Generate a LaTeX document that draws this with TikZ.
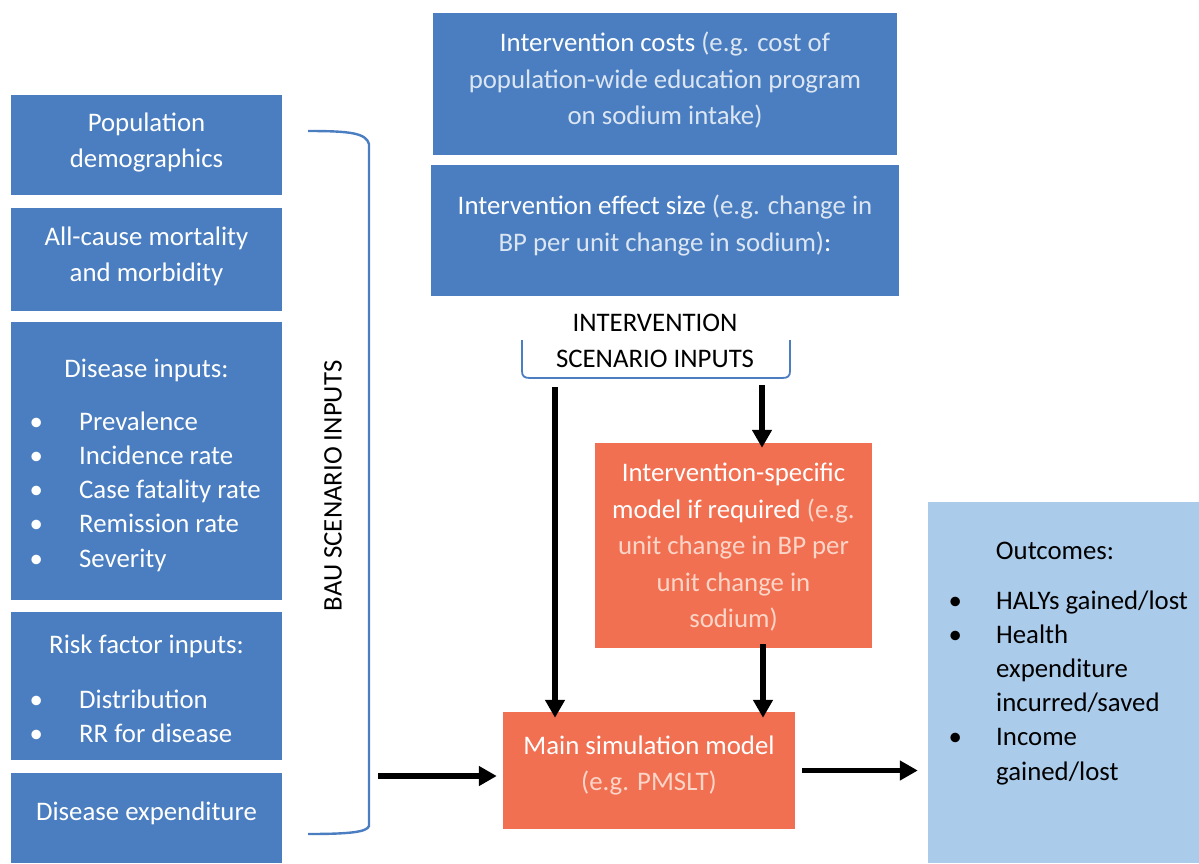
\documentclass[tikz,border=0pt]{standalone}
\usepackage{fontspec}
\setmainfont{Carlito}
\usetikzlibrary{arrows.meta}
\definecolor{boxblue}{HTML}{4A7EC0}
\definecolor{subblue}{HTML}{DCE6F2}
\definecolor{boxorange}{HTML}{F27052}
\definecolor{suborange}{HTML}{FBD5C8}
\definecolor{outblue}{HTML}{ABCBEB}
\tikzset{
  blubox/.style={fill=boxblue, draw=none, inner sep=0pt},
  orbox/.style={fill=boxorange, draw=none, inner sep=0pt},
  outbox/.style={fill=outblue, draw=none, inner sep=0pt},
  txt/.style={font=\fontsize{26.8}{36.5}\selectfont, align=center, inner sep=0pt},
  sh/.style={yshift=-2.5pt},
  wtxt/.style={txt, sh, text=white},
  ltxt/.style={font=\fontsize{26.8}{34.2}\selectfont, align=left, inner sep=0pt, anchor=west, sh},
  brace/.style={draw=boxblue, line width=2.4pt},
  arr/.style={line width=5.8pt, -{Triangle[length=18pt,width=19pt]}},
}
\newcommand{\bul}{\makebox[20pt][c]{•}}
\begin{document}
\begin{tikzpicture}[x=1pt,y=-1pt]
\useasboundingbox (0,0) rectangle (1199,863);
% left column
\node[blubox, minimum width=271, minimum height=100] (pop) at (146.5,145) {};
\node[wtxt] (popt) at (146.5,140) {Population\\demographics};
\node[blubox, minimum width=271, minimum height=103] (acm) at (146.5,259.5) {};
\node[wtxt] (acmt) at (146.5,254) {All-cause mortality\\and morbidity};
\node[blubox, minimum width=271, minimum height=278] (dis) at (146.5,461) {};
\node[wtxt] (dist) at (146.5,368) {Disease inputs:};
\node[ltxt, text=white] (disl) at (26,489) {\bul\hspace{33pt}Prevalence\\\bul\hspace{33pt}Incidence rate\\\bul\hspace{33pt}Case fatality rate\\\bul\hspace{33pt}Remission rate\\\bul\hspace{33pt}Severity};
\node[blubox, minimum width=271, minimum height=148] (rf) at (146.5,686) {};
\node[wtxt] (rft) at (146.5,644) {Risk factor inputs:};
\node[ltxt, text=white] (rfl) at (26,714) {\bul\hspace{33pt}Distribution\\\bul\hspace{33pt}RR for disease};
\node[blubox, minimum width=271, minimum height=90] (dexp) at (146.5,818) {};
\node[wtxt] (dexpt) at (146.5,811) {Disease expenditure};
% BAU brace
\draw[brace] (308,131) .. controls (350,131) and (366,133) .. (369,144) -- (369,826) .. controls (367,832) and (350,834) .. (308,834);
\node[txt, rotate=90] (bau) at (333,486) {BAU SCENARIO INPUTS};
\coordinate (baupt) at (378,776);
% top boxes
\node[blubox, minimum width=464, minimum height=142] (cost) at (665,84) {};
\node[wtxt] (costt) at (665,78) {Intervention costs {\color{subblue}(e.g. cost of}\\{\color{subblue}population-wide education program}\\{\color{subblue}on sodium intake)}};
\node[blubox, minimum width=468, minimum height=131] (eff) at (665,230.5) {};
\node[wtxt] (efft) at (665,223) {Intervention effect size {\color{subblue}(e.g. change in}\\{\color{subblue}BP per unit change in sodium)}:};
% intervention label and brace
\node[txt, sh] (intl) at (655,338.5) {INTERVENTION\\SCENARIO INPUTS};
\draw[draw=boxblue, line width=1.8pt] (522,340) -- (522,371) .. controls (522,376) and (524,378) .. (530,378) -- (782,378) .. controls (788,378) and (790,376) .. (790,371) -- (790,340);
\coordinate (ibl) at (555,387);
\coordinate (ibr) at (762,385);
% orange boxes
\node[orbox, minimum width=277, minimum height=205] (spec) at (733.5,545.5) {};
\node[wtxt] (spect) at (733.5,545) {Intervention-specific\\model if required {\color{suborange}(e.g.}\\{\color{suborange}unit change in BP per}\\{\color{suborange}unit change in}\\{\color{suborange}sodium)}};
\node[orbox, minimum width=292, minimum height=117] (main) at (649,770.5) {};
\node[wtxt] (maint) at (649,763) {Main simulation model\\{\color{suborange}(e.g. PMSLT)}};
% outcomes
\node[outbox, minimum width=271, minimum height=361] (out) at (1063.5,682.5) {};
\node[txt, sh] (outt) at (1055,548) {Outcomes:};
\node[ltxt] (outl) at (945,685) {\bul\hspace{31pt}HALYs gained/lost\\\bul\hspace{31pt}Health\\\hspace*{51pt}expenditure\\\hspace*{51pt}incurred/saved\\\bul\hspace{31pt}Income\\\hspace*{51pt}gained/lost};
% arrows
\draw[arr] (ibl) -- ([yshift=-6pt]ibl |- main.north);
\draw[arr] (ibr) -- ([yshift=-5pt]ibr |- spec.north);
\draw[arr] ([xshift=29.5pt,yshift=4pt]spec.south) -- ([xshift=114pt,yshift=-6pt]main.north);
\draw[arr] (baupt) -- ([xshift=-6pt]baupt -| main.west);
\draw[arr] ([xshift=7pt]main.east) -- ([xshift=-10pt]main.east -| out.west);
\end{tikzpicture}
\end{document}
